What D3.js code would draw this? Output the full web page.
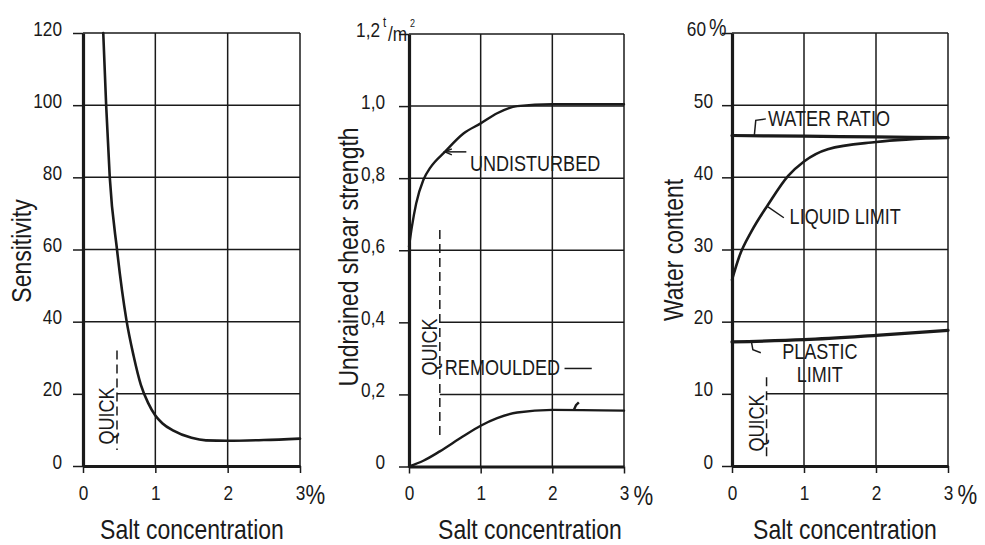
<!DOCTYPE html>
<html>
<head>
<meta charset="utf-8">
<script src="https://cdn.jsdelivr.net/npm/d3@7"></script>
<style>
  body { margin: 0; background: #fff; }
  svg text { font-family: 'Liberation Sans', Arial, sans-serif; fill: #1a1a1a; }
</style>
</head>
<body>
<div id="chart"></div>
<script>
// salt concentration ticks (%), shared by the three panels
var saltTicks = [0, 1, 2, 3];

// sensitivity
var sensTicks = [0, 20, 40, 60, 80, 100, 120];
var sensTickLabels = ["0", "20", "40", "60", "80", "100", "120"];
var sensSalt = [0.28, 0.32, 0.37, 0.47, 0.60, 0.70, 0.80, 0.90, 1.00, 1.10, 1.25, 1.50, 1.70, 2.00, 2.50, 3.00];
var sensValue = [120, 100, 80, 60, 40.5, 30.5, 22.5, 17.5, 14.0, 11.8, 9.8, 7.8, 7.1, 7.0, 7.2, 7.6];

// undrained shear strength (t/m2)
var shearTicks = [0, 0.2, 0.4, 0.6, 0.8, 1.0, 1.2];
var shearTickLabels = ["0", "0,2", "0,4", "0,6", "0,8", "1,0", "1,2"];
var undisturbedSalt = [0, 0.04, 0.10, 0.20, 0.30, 0.50, 0.76, 1.00, 1.23, 1.51, 2.00, 3.00];
var undisturbedValue = [0.61, 0.665, 0.73, 0.795, 0.83, 0.873, 0.924, 0.952, 0.98, 1.0, 1.005, 1.005];
var remouldedSalt = [0, 0.2, 0.43, 0.75, 1.00, 1.23, 1.51, 2.00, 3.00];
var remouldedValue = [0, 0.016, 0.042, 0.083, 0.113, 0.134, 0.150, 0.157, 0.155];

// water content (%)
var waterTicks = [0, 10, 20, 30, 40, 50, 60];
var waterTickLabels = ["0", "10", "20", "30", "40", "50", "60"];
var waterRatioSalt = [0, 1, 2, 3];
var waterRatioValue = [45.8, 45.7, 45.6, 45.5];
var liquidSalt = [0, 0.10, 0.27, 0.50, 0.78, 1.00, 1.33, 2.00, 3.00];
var liquidValue = [25.8, 29.0, 32.5, 36.2, 40.2, 42.2, 43.9, 44.9, 45.5];
var plasticSalt = [0, 1, 2, 3];
var plasticValue = [17.2, 17.5, 18.1, 18.8];

// upper end of the "quick" range on each panel (salt %)
var quickSalt = [0.47, 0.43, 0.48];

var svg = d3.select("#chart").append("svg")
  .attr("width", 985)
  .attr("height", 545);

var ink = "#1a1a1a";

function drawPanel(p) {
  var x = d3.scaleLinear().domain([0, 3]).range([p.left, p.right]);
  var y = d3.scaleLinear().domain([0, p.ticks[p.ticks.length - 1]]).range([p.bottom, p.top]);
  var g = svg.append("g");
  var top = p.ticks[p.ticks.length - 1];

  // horizontal grid lines, the low ones stop at the quick line
  g.selectAll(".hgrid")
    .data(p.ticks.slice(1))
    .enter()
    .append("line")
    .attr("x1", d => d <= p.partialBelow ? x(p.quick) : x(0))
    .attr("x2", x(3))
    .attr("y1", d => y(d))
    .attr("y2", d => y(d))
    .attr("stroke", ink)
    .attr("stroke-width", 1.5);

  // vertical grid lines
  g.selectAll(".vgrid")
    .data(saltTicks.slice(1))
    .enter()
    .append("line")
    .attr("x1", d => x(d))
    .attr("x2", d => x(d))
    .attr("y1", y(0))
    .attr("y2", y(top))
    .attr("stroke", ink)
    .attr("stroke-width", 1.5);

  // y axis
  var yAxis = g.append("g")
    .attr("transform", `translate(${x(0)},0)`)
    .call(d3.axisLeft(y).tickValues(p.ticks).tickSize(10).tickPadding(p.pad).tickSizeOuter(0)
      .tickFormat((d, i) => p.labels[i]));
  yAxis.select(".domain").attr("stroke", ink).attr("stroke-width", 3.2);
  yAxis.selectAll(".tick line").attr("stroke", ink).attr("stroke-width", 1.5);
  yAxis.selectAll(".tick text")
    .attr("font-size", 21)
    .attr("dy", "0.1em");

  // x axis
  var xAxis = g.append("g")
    .attr("transform", `translate(0,${y(0)})`)
    .call(d3.axisBottom(x).tickValues(saltTicks).tickSize(7).tickPadding(12).tickSizeOuter(0)
      .tickFormat(d3.format("d")));
  xAxis.select(".domain").attr("stroke", ink).attr("stroke-width", 3.2);
  xAxis.selectAll(".tick line").attr("stroke", ink).attr("stroke-width", 1.5);
  xAxis.selectAll(".tick text").attr("font-size", 21);
  xAxis.selectAll(".tick").filter(d => d === 3)
    .append("text")
    .attr("x", p.pctGap)
    .attr("y", 19)
    .attr("dy", "0.71em")
    .attr("text-anchor", "start")
    .attr("font-size", 27)
    .attr("fill", ink)
    .text("%");

  // quick clay marker
  g.append("line")
    .attr("x1", x(p.quick))
    .attr("x2", x(p.quick))
    .attr("y1", y(p.quickTop))
    .attr("y2", y(p.quickBottom))
    .attr("stroke", ink)
    .attr("stroke-width", 1.5)
    .attr("stroke-dasharray", "9,5");

  g.append("text")
    .attr("transform", `translate(${x(p.quick) - 3},${p.quickMid}) rotate(-90)`)
    .attr("text-anchor", "middle")
    .attr("font-size", 22)
    .text("QUICK");

  // axis titles
  g.append("text")
    .attr("transform", `translate(${p.yTitleX},${p.yTitleMid}) rotate(-90)`)
    .attr("text-anchor", "middle")
    .attr("font-size", 28)
    .text(p.yTitle);

  g.append("text")
    .attr("x", p.xTitleMid)
    .attr("y", 539)
    .attr("text-anchor", "middle")
    .attr("font-size", 28)
    .text("Salt concentration");

  return { x: x, y: y, g: g, yAxis: yAxis };
}

function drawCurve(panel, xs, ys, width) {
  var pts = xs.map((d, i) => [d, ys[i]]);
  panel.g.append("path")
    .datum(pts)
    .attr("fill", "none")
    .attr("stroke", ink)
    .attr("stroke-width", width)
    .attr("stroke-linecap", "round")
    .attr("d", d3.line()
      .x(d => panel.x(d[0]))
      .y(d => panel.y(d[1]))
      .curve(d3.curveMonotoneX));
}

function leader(panel, pts, width) {
  panel.g.append("path")
    .datum(pts)
    .attr("fill", "none")
    .attr("stroke", ink)
    .attr("stroke-width", width || 1.5)
    .attr("d", d3.line().x(d => panel.x(d[0])).y(d => panel.y(d[1])));
}

function label(panel, sx, v, txt, anchor) {
  return panel.g.append("text")
    .attr("x", panel.x(sx))
    .attr("y", panel.y(v))
    .attr("text-anchor", anchor || "start")
    .attr("font-size", 22)
    .text(txt);
}

// small text piece inside a tick group
function tickPiece(tick, x, y, size, anchor, txt) {
  tick.append("text")
    .attr("x", x)
    .attr("y", y)
    .attr("font-size", size)
    .attr("text-anchor", anchor)
    .attr("fill", ink)
    .text(txt);
}

// ---- left panel: sensitivity
var left = drawPanel({
  left: 83, right: 300, top: 33, bottom: 466,
  ticks: sensTicks, labels: sensTickLabels, pad: 11,
  partialBelow: 20, quick: quickSalt[0], quickTop: 32, quickBottom: 4.4, quickMid: 416,
  yTitle: "Sensitivity", yTitleX: 31, yTitleMid: 251, xTitleMid: 192, pctGap: 5
});
drawCurve(left, sensSalt, sensValue, 2.6);

// ---- middle panel: undrained shear strength
var mid = drawPanel({
  left: 409, right: 624, top: 34, bottom: 466.5,
  ticks: shearTicks, labels: shearTickLabels, pad: 14,
  partialBelow: 0.4, quick: quickSalt[1], quickTop: 0.656, quickBottom: 0.08, quickMid: 347,
  yTitle: "Undrained shear strength", yTitleX: 358, yTitleMid: 257, xTitleMid: 530, pctGap: 9
});
drawCurve(mid, undisturbedSalt, undisturbedValue, 2.4);
drawCurve(mid, remouldedSalt, remouldedValue, 2.4);

// unit on the top tick: 1,2 t/m2
var topTick = mid.yAxis.selectAll(".tick").filter(d => d === 1.2);
topTick.select("text").attr("x", -29);
tickPiece(topTick, -26, -8, 14, "start", "t");
tickPiece(topTick, -21, 6, 21, "start", "/m");
tickPiece(topTick, 1, -8, 11, "start", "2");

leader(mid, [[0.50, 0.873], [0.80, 0.873]]);
mid.g.append("path")
  .attr("d", d3.line()([[mid.x(0.5) + 7, mid.y(0.873) - 3], [mid.x(0.5), mid.y(0.873)], [mid.x(0.5) + 7, mid.y(0.873) + 3]]))
  .attr("fill", "none").attr("stroke", ink).attr("stroke-width", 1.5);
label(mid, 0.85, 0.82, "UNDISTURBED");

label(mid, 0.50, 0.253, "REMOULDED");
leader(mid, [[2.17, 0.272], [2.55, 0.272]]);
leader(mid, [[2.30, 0.157], [2.33, 0.17], [2.37, 0.178]], 2.4);

// ---- right panel: water content
var right = drawPanel({
  left: 732, right: 948, top: 33, bottom: 466,
  ticks: waterTicks, labels: waterTickLabels, pad: 9,
  partialBelow: 10, quick: quickSalt[2], quickTop: 12.3, quickBottom: 0.8, quickMid: 423,
  yTitle: "Water content", yTitleX: 683, yTitleMid: 250, xTitleMid: 845, pctGap: 9
});
drawCurve(right, waterRatioSalt, waterRatioValue, 3.2);
drawCurve(right, liquidSalt, liquidValue, 2.6);
drawCurve(right, plasticSalt, plasticValue, 3.2);

var topWater = right.yAxis.selectAll(".tick").filter(d => d === 60);
topWater.select("text").attr("x", -26);
tickPiece(topWater, -23, 2, 24, "start", "%");

leader(right, [[0.31, 45.8], [0.33, 47.9], [0.47, 48.1]]);
label(right, 0.50, 47.1, "WATER RATIO");

leader(right, [[0.50, 35.9], [0.72, 34.4]]);
label(right, 0.80, 33.5, "LIQUID LIMIT");

leader(right, [[0.27, 17.2], [0.29, 16.1], [0.40, 15.7]]);
label(right, 1.22, 14.8, "PLASTIC", "middle");
label(right, 1.22, 11.6, "LIMIT", "middle");

// the drawing uses a narrow face: squeeze every text to Arial Narrow width
svg.selectAll("text").each(function() {
  var w = this.getComputedTextLength();
  if (w > 0) {
    d3.select(this)
      .attr("textLength", w * 0.82)
      .attr("lengthAdjust", "spacingAndGlyphs");
  }
});
</script>
</body>
</html>
